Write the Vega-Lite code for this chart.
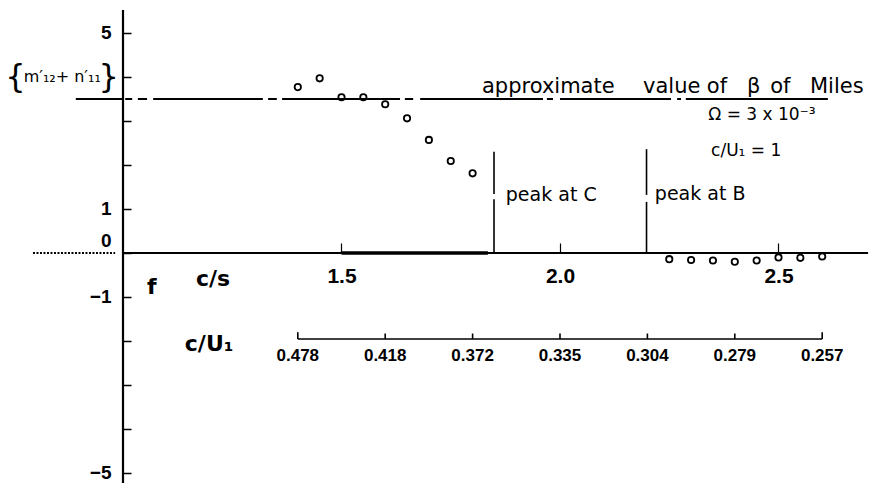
{
  "$schema": "https://vega.github.io/schema/vega-lite/v6.json",
  "width": 872,
  "height": 486,
  "autosize": "none",
  "padding": 0,
  "background": "white",
  "config": {"view": {"stroke": null}, "text": {"font": "DejaVu Sans", "color": "black"}},
  "datasets": {
    "pts": [
      {"cs": 1.40, "v": 3.77}, {"cs": 1.45, "v": 3.97}, {"cs": 1.50, "v": 3.54}, {"cs": 1.55, "v": 3.54},
      {"cs": 1.60, "v": 3.38}, {"cs": 1.65, "v": 3.06}, {"cs": 1.70, "v": 2.57}, {"cs": 1.75, "v": 2.09},
      {"cs": 1.80, "v": 1.81},
      {"cs": 2.25, "v": -0.14}, {"cs": 2.30, "v": -0.16}, {"cs": 2.35, "v": -0.17}, {"cs": 2.40, "v": -0.20},
      {"cs": 2.45, "v": -0.17}, {"cs": 2.50, "v": -0.10}, {"cs": 2.55, "v": -0.11}, {"cs": 2.60, "v": -0.08}
    ],
    "betaLine": [
      {"cs": 0.892, "cs2": 0.998, "v": 3.5}, {"cs": 1.005, "cs2": 1.021, "v": 3.5},
      {"cs": 1.034, "cs2": 1.055, "v": 3.5}, {"cs": 1.069, "cs2": 1.320, "v": 3.5},
      {"cs": 1.332, "cs2": 1.352, "v": 3.5}, {"cs": 1.364, "cs2": 1.634, "v": 3.5},
      {"cs": 1.645, "cs2": 1.664, "v": 3.5}, {"cs": 1.680, "cs2": 1.961, "v": 3.5},
      {"cs": 1.970, "cs2": 1.984, "v": 3.5}, {"cs": 2.000, "cs2": 2.254, "v": 3.5},
      {"cs": 2.268, "cs2": 2.277, "v": 3.5}, {"cs": 2.288, "cs2": 2.613, "v": 3.5}
    ],
    "axisSolid": [
      {"cs": 1.0, "cs2": 2.705, "v": 0}
    ],
    "axisDotted": [
      {"cs": 0.794, "cs2": 0.982, "v": 0}
    ],
    "axisThick": [
      {"cs": 1.5, "cs2": 1.835, "v": 0}
    ],
    "yLine": [
      {"cs": 1.0, "v": -5.23, "v2": 5.52}
    ],
    "peaks": [
      {"cs": 1.849, "v": 0, "v2": 1.22}, {"cs": 1.849, "v": 1.34, "v2": 2.30},
      {"cs": 2.198, "v": 0, "v2": 1.16}, {"cs": 2.198, "v": 1.32, "v2": 2.36}
    ],
    "cu1Line": [
      {"cs": 1.4, "cs2": 2.6, "v": -1.955}
    ],
    "cu1Ticks": [
      {"cs": 1.4, "v": -1.955, "v2": -1.80},
      {"cs": 1.6, "v": -1.955, "v2": -1.83},
      {"cs": 1.8, "v": -1.955, "v2": -1.83},
      {"cs": 2.0, "v": -1.955, "v2": -1.83},
      {"cs": 2.2, "v": -1.955, "v2": -1.83},
      {"cs": 2.4, "v": -1.955, "v2": -1.83},
      {"cs": 2.6, "v": -1.955, "v2": -1.80}
    ],
    "cu1Labels": [
      {"cs": 1.4, "v": -2.33, "t": "0.478"},
      {"cs": 1.6, "v": -2.33, "t": "0.418"},
      {"cs": 1.8, "v": -2.33, "t": "0.372"},
      {"cs": 2.0, "v": -2.33, "t": "0.335"},
      {"cs": 2.2, "v": -2.33, "t": "0.304"},
      {"cs": 2.4, "v": -2.33, "t": "0.279"},
      {"cs": 2.6, "v": -2.33, "t": "0.257"}
    ],
    "wordsTop": [
      {"cs": 1.8215, "v": 3.63, "t": "approximate"},
      {"cs": 2.190, "v": 3.63, "t": "value"},
      {"cs": 2.336, "v": 3.63, "t": "of"},
      {"cs": 2.428, "v": 3.63, "t": "β"},
      {"cs": 2.481, "v": 3.63, "t": "of"},
      {"cs": 2.572, "v": 3.63, "t": "Miles"}
    ],
    "peakLabels": [
      {"cs": 1.876, "v": 1.18, "t": "peak at C"},
      {"cs": 2.217, "v": 1.20, "t": "peak at B"}
    ],
    "centerLabels": [
      {"cs": 2.462, "v": 3.14, "t": "Ω = 3 x 10⁻³"},
      {"cs": 2.426, "v": 2.32, "t": "c/U₁ = 1"}
    ],
    "axisNames": [
      {"cs": 1.066, "v": -0.77, "t": "f"},
      {"cs": 1.206, "v": -0.59, "t": "c/s"},
      {"cs": 1.197, "v": -2.07, "t": "c/U₁"}
    ],
    "yTitle": [
      {"cs": 0.861, "v": 4.0, "t": "m′₁₂+ n′₁₁"}
    ],
    "braces": [
      {"cs": 0.754, "v": 4.0, "t": "{"},
      {"cs": 0.967, "v": 4.0, "t": "}"}
    ]
  },
  "encoding": {
    "x": {
      "field": "cs", "type": "quantitative",
      "scale": {"domain": [0.71854, 2.71396], "nice": false, "zero": false},
      "axis": {
        "orient": "bottom", "offset": -233, "values": [1.5, 2.0, 2.5], "format": ".1f",
        "domain": false, "grid": false, "tickSize": -10, "tickColor": "black", "tickWidth": 1.2,
        "labelPadding": 22, "labelFont": "Liberation Sans", "labelFontWeight": "bold", "labelFontSize": 21,
        "labelColor": "black", "title": null, "labelFlush": false
      }
    },
    "y": {
      "field": "v", "type": "quantitative",
      "scale": {"domain": [-5.2955, 5.75], "nice": false, "zero": false},
      "axis": {
        "orient": "left", "offset": -123, "values": [-5, -4, -3, -2, -1, 0, 1, 2, 3, 4, 5],
        "labelExpr": "datum.value == 5 || datum.value == 1 || datum.value == 0 || datum.value == -1 || datum.value == -5 ? datum.label : ''",
        "domain": false, "grid": false, "tickSize": -8, "tickColor": "black", "tickWidth": 1.5,
        "labelPadding": 20,
        "labelOffset": {"condition": {"test": "datum.value == 0", "value": -12}, "value": 0},
        "labelFont": "Liberation Sans", "labelFontWeight": "bold", "labelFontSize": 19,
        "labelColor": "black", "title": null, "labelFlush": false, "labelOverlap": false
      }
    }
  },
  "layer": [
    {"data": {"name": "betaLine"}, "mark": {"type": "rule", "color": "black", "strokeWidth": 2}, "encoding": {"x2": {"field": "cs2"}}},
    {"data": {"name": "axisSolid"}, "mark": {"type": "rule", "color": "black", "strokeWidth": 2}, "encoding": {"x2": {"field": "cs2"}}},
    {"data": {"name": "axisDotted"}, "mark": {"type": "rule", "color": "black", "strokeWidth": 2, "strokeDash": [2, 1.5]}, "encoding": {"x2": {"field": "cs2"}}},
    {"data": {"name": "axisThick"}, "mark": {"type": "rule", "color": "black", "strokeWidth": 3.5}, "encoding": {"x2": {"field": "cs2"}}},
    {"data": {"name": "yLine"}, "mark": {"type": "rule", "color": "black", "strokeWidth": 2.2}, "encoding": {"y2": {"field": "v2"}}},
    {"data": {"name": "peaks"}, "mark": {"type": "rule", "color": "black", "strokeWidth": 1.6}, "encoding": {"y2": {"field": "v2"}}},
    {"data": {"name": "cu1Line"}, "mark": {"type": "rule", "color": "black", "strokeWidth": 1.6}, "encoding": {"x2": {"field": "cs2"}}},
    {"data": {"name": "cu1Ticks"}, "mark": {"type": "rule", "color": "black", "strokeWidth": 1.6}, "encoding": {"y2": {"field": "v2"}}},
    {"data": {"name": "pts"}, "mark": {"type": "point", "shape": "circle", "filled": false, "color": "black", "size": 40, "strokeWidth": 1.8, "opacity": 1}},
    {"data": {"name": "cu1Labels"}, "mark": {"type": "text", "font": "Liberation Sans", "fontWeight": "bold", "fontSize": 17, "align": "center", "baseline": "middle"}, "encoding": {"text": {"field": "t"}}},
    {"data": {"name": "wordsTop"}, "mark": {"type": "text", "fontSize": 21, "align": "left", "baseline": "alphabetic"}, "encoding": {"text": {"field": "t"}}},
    {"data": {"name": "peakLabels"}, "mark": {"type": "text", "fontSize": 19, "align": "left", "baseline": "alphabetic"}, "encoding": {"text": {"field": "t"}}},
    {"data": {"name": "centerLabels"}, "mark": {"type": "text", "fontSize": 17, "align": "center", "baseline": "middle"}, "encoding": {"text": {"field": "t"}}},
    {"data": {"name": "axisNames"}, "mark": {"type": "text", "fontSize": 22, "fontWeight": "bold", "align": "center", "baseline": "middle"}, "encoding": {"text": {"field": "t"}}},
    {"data": {"name": "yTitle"}, "mark": {"type": "text", "fontSize": 16, "align": "center", "baseline": "middle"}, "encoding": {"text": {"field": "t"}}},
    {"data": {"name": "braces"}, "mark": {"type": "text", "fontSize": 32, "align": "center", "baseline": "middle"}, "encoding": {"text": {"field": "t"}}}
  ]
}
